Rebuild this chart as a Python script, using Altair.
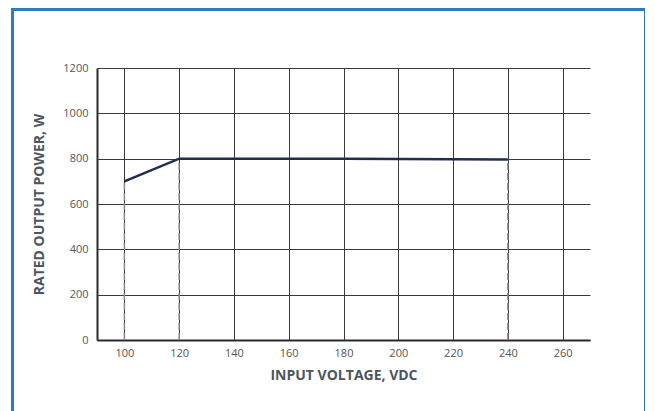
import altair as alt
import pandas as pd

voltage = [100, 120, 180, 240]
power = [700, 800, 800, 796]

drop_v = [100, 120, 240]
drop_p = [700, 800, 796]

x_ticks = [100, 120, 140, 160, 180, 200, 220, 240, 260]
y_ticks = [0, 200, 400, 600, 800, 1000, 1200]

line_df = pd.DataFrame({"v": voltage, "p": power})
drop_df = pd.DataFrame({"v": drop_v, "p": drop_p, "z": [0] * len(drop_v)})

FONT = "Open Sans"

xscale = alt.Scale(domain=[90, 270], nice=False, zero=False)
yscale = alt.Scale(domain=[0, 1200], nice=False)

xaxis = alt.Axis(values=x_ticks, format="d", title="INPUT VOLTAGE, VDC", grid=True, gridColor="#3a3a3a",
                 gridWidth=1, ticks=False, domainColor="#2a2a2a", domainWidth=2,
                 labelFont=FONT, labelFontSize=11, labelColor="#555", labelPadding=7,
                 titleFont=FONT, titleFontSize=14, titleFontWeight="bold", titleColor="#4a5660",
                 titlePadding=10)
yaxis = alt.Axis(values=y_ticks, format="d", title="RATED OUTPUT POWER, W", grid=True, gridColor="#3a3a3a",
                 gridWidth=1, ticks=False, domainColor="#2a2a2a", domainWidth=2,
                 labelFont=FONT, labelFontSize=11, labelColor="#555", labelPadding=9,
                 titleFont=FONT, titleFontSize=14, titleFontWeight="bold", titleColor="#4a5660",
                 titlePadding=16)

base_grid = alt.Chart(line_df).mark_line(opacity=0).encode(
    x=alt.X("v:Q", scale=xscale, axis=xaxis),
    y=alt.Y("p:Q", scale=yscale, axis=yaxis),
)

border = alt.Chart(pd.DataFrame({"a": [0]})).mark_rect(
    fill=None, stroke="#2f7ab8", strokeWidth=3, clip=False
).encode(
    x=alt.value(-84.5), x2=alt.value(548.5), y=alt.value(-58.5), y2=alt.value(380)
)

drops = alt.Chart(drop_df).mark_rule(color="#8a8a8a", strokeWidth=1.5, strokeDash=[7, 3]).encode(
    x="v:Q", y="z:Q", y2="p:Q"
)

line = alt.Chart(line_df).mark_line(color="#1f2d4f", strokeWidth=2.5).encode(
    x="v:Q", y="p:Q"
)

chart = alt.layer(base_grid, border, drops, line).properties(
    width=493, height=272,
    autosize=alt.AutoSizeParams(type="none"),
    padding={"left": 89, "top": 60, "right": 55, "bottom": 71},
    background="white",
).configure_view(strokeWidth=0)

chart.save("out.html", embed_options={"renderer": "svg", "actions": False})
